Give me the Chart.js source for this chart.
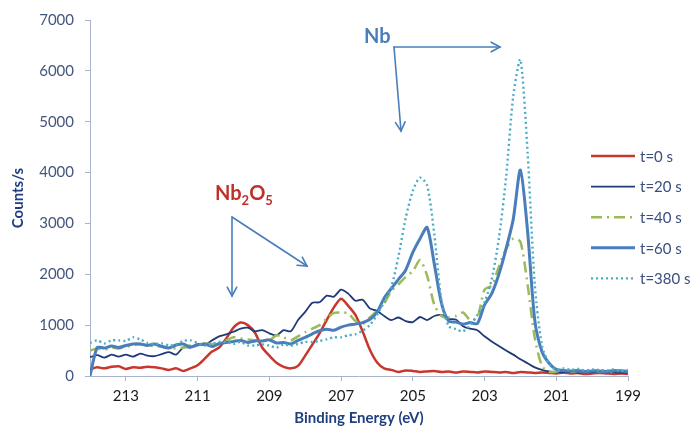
<!DOCTYPE html>
<html><head><meta charset="utf-8">
<script src="https://cdn.jsdelivr.net/npm/chart.js@4.4.0/dist/chart.umd.min.js"></script>
<style>html,body{margin:0;padding:0;background:#fff;}#wrap{width:690px;height:431px;position:relative}</style>
</head><body><div id="wrap"><canvas id="c"></canvas></div>
<script>
// Binding energy (eV), x values
const energy = [214.0,213.8,213.6,213.4,213.2,213.0,212.8,212.6,212.4,212.2,
212.0,211.8,211.6,211.4,211.2,211.0,210.8,210.6,210.4,210.2,
210.0,209.8,209.6,209.4,209.2,209.0,208.8,208.6,208.4,208.2,
208.0,207.8,207.6,207.4,207.2,207.0,206.8,206.6,206.4,206.2,
206.0,205.8,205.6,205.4,205.2,205.0,204.8,204.6,204.4,204.2,
204.0,203.8,203.6,203.4,203.2,203.0,202.8,202.6,202.4,202.2,
202.0,201.8,201.6,201.4,201.2,201.0,200.8,200.6,200.4,200.2,
200.0,199.8,199.6,199.4,199.2,199.0];

const t0 = [130,170,150,180,190,140,170,160,180,170,
150,120,150,100,150,210,340,480,560,740,
950,1050,1000,850,560,400,260,180,150,200,
400,620,840,1100,1350,1520,1380,1200,880,520,
270,150,120,80,110,100,80,90,100,80,
90,70,90,80,70,90,80,70,80,60,
80,70,60,70,60,50,70,50,60,40,
50,60,50,40,50,40];

const t20 = [370,410,360,420,380,420,380,440,400,390,
430,470,420,560,560,630,610,700,780,820,
870,930,950,880,900,840,800,900,880,1100,
1260,1440,1450,1580,1560,1700,1620,1480,1500,1330,
1280,1180,1100,1150,1080,1060,1160,1100,1180,1200,
1120,1110,980,930,900,780,680,590,500,420,
330,250,170,120,90,80,70,90,60,80,
70,90,70,80,60,70];

const t40 = [500,540,520,560,540,580,600,630,600,590,
580,560,540,560,600,620,640,630,640,700,
760,740,720,700,690,700,800,760,700,780,
860,930,1000,1130,1240,1250,1230,1080,1020,1150,
1280,1420,1670,1800,1950,2060,2280,1970,1400,1180,
1150,1180,1250,1100,1150,1700,1780,2150,2500,2700,
2640,1800,750,200,80,90,110,80,100,90,
110,90,100,80,110,90];

const t60 = [0,560,550,590,560,600,630,630,600,630,
580,550,610,630,570,610,630,580,640,660,
680,700,660,690,690,710,650,660,630,700,
760,830,890,920,900,960,1000,1020,1050,1110,
1250,1530,1720,1900,2080,2430,2700,2920,2200,1430,
1080,1060,1020,1050,1030,1400,1620,2000,2500,3080,
4050,2850,1100,480,250,130,110,100,110,90,
100,100,90,110,100,90];

const t380 = [650,700,640,700,700,690,760,720,650,630,
640,600,620,690,700,650,600,630,670,670,
630,670,600,600,620,600,560,620,600,630,
670,670,690,720,760,760,800,820,890,1000,
1200,1450,1750,2350,3100,3640,3900,3750,2780,1480,
980,920,880,1000,1200,1450,1900,2700,3900,5500,
6220,4400,1800,600,240,120,150,120,140,110,
130,120,110,130,100,120];

const seriesNames = ['t=0 s','t=20 s','t=40 s','t=60 s','t=380 s'];
const xTicks = [213,211,209,207,205,203,201,199];

const styles = [
  {color:'#C8372D', width:2.5, dash:[]},
  {color:'#1F3A78', width:1.8, dash:[]},
  {color:'#9BBB59', width:2.5, dash:[11,5,2,5]},
  {color:'#4A7EBB', width:3, dash:[]},
  {color:'#4BACC6', width:2.4, dash:[2,3]}
];
const values = [t0,t20,t40,t60,t380];

const FONT = 'Lato, "Open Sans", sans-serif';

const datasets = values.map((arr,k)=>({
  label: seriesNames[k],
  data: arr.map((v,i)=>({x:energy[i], y:v})),
  borderColor: styles[k].color,
  backgroundColor: styles[k].color,
  borderWidth: styles[k].width,
  borderDash: styles[k].dash,
  pointRadius: 0,
  tension: 0.25,
  fill: false,
  order: 5-k
}));

function arrow(ctx, x1,y1,x2,y2, color){
  ctx.save();
  ctx.strokeStyle = color; ctx.lineWidth = 1.6; ctx.lineCap='round';
  ctx.beginPath(); ctx.moveTo(x1,y1); ctx.lineTo(x2,y2); ctx.stroke();
  const a = Math.atan2(y2-y1, x2-x1), L = 10, w = 0.5;
  ctx.beginPath();
  ctx.moveTo(x2 - L*Math.cos(a-w), y2 - L*Math.sin(a-w));
  ctx.lineTo(x2,y2);
  ctx.lineTo(x2 - L*Math.cos(a+w), y2 - L*Math.sin(a+w));
  ctx.stroke();
  ctx.restore();
}

const annot = {
  id:'annot',
  afterDraw(chart){
    const ctx = chart.ctx;
    // Legend
    ctx.save();
    const lx0 = 591, lx1 = 635, tx = 640, ly0 = 156, dy = 30.6;
    chart.data.datasets.forEach((ds,k)=>{
      const y = ly0 + k*dy;
      ctx.strokeStyle = ds.borderColor; ctx.lineWidth = ds.borderWidth;
      ctx.setLineDash(ds.borderDash || []);
      ctx.beginPath(); ctx.moveTo(lx0,y); ctx.lineTo(lx1,y); ctx.stroke();
      ctx.setLineDash([]);
      ctx.fillStyle = '#3B4E80'; ctx.font = '15px ' + FONT;
      ctx.textBaseline = 'middle'; ctx.textAlign='left';
      ctx.fillText(ds.label, tx, y+1);
    });
    ctx.restore();
    // Nb2O5 label
    ctx.save();
    ctx.fillStyle = '#C0302A'; ctx.textBaseline='alphabetic'; ctx.textAlign='left';
    let x = 215; const base = 200;
    ctx.font = 'bold 20px ' + FONT; ctx.fillText('Nb', x, base); x += ctx.measureText('Nb').width;
    ctx.font = 'bold 13px ' + FONT; ctx.fillText('2', x, base+5); x += ctx.measureText('2').width;
    ctx.font = 'bold 20px ' + FONT; ctx.fillText('O', x, base); x += ctx.measureText('O').width;
    ctx.font = 'bold 13px ' + FONT; ctx.fillText('5', x, base+5);
    // Nb label
    ctx.fillStyle = '#4A7EBB'; ctx.font = 'bold 20px ' + FONT;
    ctx.fillText('Nb', 364, 43);
    ctx.restore();
    const ac = '#4A7EBB';
    arrow(ctx, 232,217, 232,296, ac);
    arrow(ctx, 232,217, 307,266, ac);
    arrow(ctx, 394,47, 500,47, ac);
    arrow(ctx, 394,47, 401,131, ac);
  }
};

new Chart(document.getElementById('c'), {
  type:'line',
  data:{datasets},
  plugins:[annot],
  options:{
    responsive:true, maintainAspectRatio:false, animation:false,
    layout:{padding:{left:0,right:62,top:15,bottom:0}},
    plugins:{legend:{display:false}, tooltip:{enabled:false}},
    scales:{
      x:{
        type:'linear', reverse:true, min:199, max:214,
        afterBuildTicks: s => { s.ticks = xTicks.map(v=>({value:v})); },
        afterFit: s => { s.height = 55; },
        grid:{drawOnChartArea:false, drawTicks:true, tickLength:5, color:'#A9B4CC'},
        border:{color:'#A9B4CC', width:1},
        ticks:{font:{family:FONT,size:15}, color:'#1a1a1a', padding:6, maxRotation:0, autoSkip:false,
               callback: v => String(v)},
        title:{display:true, text:'Binding Energy (eV)', color:'#1F3F7F',
               font:{family:FONT,size:15,weight:'bold'}, padding:{top:0,bottom:4}}
      },
      y:{
        min:0, max:7000,
        afterFit: s => { s.width = 90; },
        grid:{drawOnChartArea:false, drawTicks:true, tickLength:5, color:'#A9B4CC'},
        border:{color:'#A9B4CC', width:1},
        ticks:{stepSize:1000, font:{family:FONT,size:15}, color:'#44557F', padding:11,
               callback: v => String(v)},
        title:{display:true, text:'Counts/s', color:'#1F3F7F',
               font:{family:FONT,size:15,weight:'bold'}, padding:{top:9,bottom:0}}
      }
    }
  }
});
</script></body></html>
